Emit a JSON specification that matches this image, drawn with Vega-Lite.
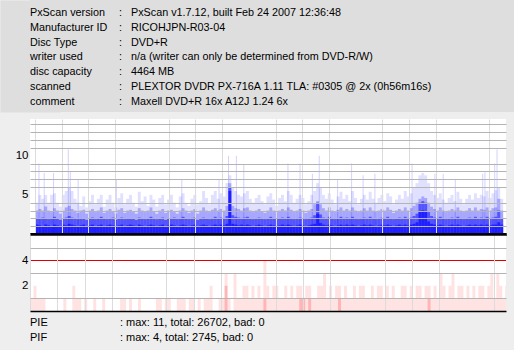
{
"$schema": "https://vega.github.io/schema/vega-lite/v6.json",
"padding": 0,
"background": "#EEEEEE",
"config": {
  "view": {"stroke": null},
  "font": "Liberation Sans",
  "text": {"font": "Liberation Sans", "fontSize": 10.8, "color": "black"},
  "axis": {"labelFont": "Liberation Sans", "labelFontSize": 11.5, "labelColor": "black", "ticks": false, "labels": false, "grid": true, "labelPadding": 2},
  "axisY": {"minExtent": 30, "maxExtent": 30}
},
"datasets": {
  "header": [
    {"i": 0, "k": "PxScan version", "v": "PxScan v1.7.12, built Feb 24 2007 12:36:48"},
    {"i": 1, "k": "Manufacturer ID", "v": "RICOHJPN-R03-04"},
    {"i": 2, "k": "Disc Type", "v": "DVD+R"},
    {"i": 3, "k": "writer used", "v": "n/a (writer can only be determined from DVD-R/W)"},
    {"i": 4, "k": "disc capacity", "v": "4464 MB"},
    {"i": 5, "k": "scanned", "v": "PLEXTOR DVDR PX-716A 1.11 TLA: #0305 @ 2x (0h56m16s)"},
    {"i": 6, "k": "comment", "v": "Maxell DVD+R 16x A12J 1.24 6x"}
  ],
  "footer": [
    {"i": 0, "k": "PIE", "v": "max: 11, total: 26702, bad: 0"},
    {"i": 1, "k": "PIF", "v": "max: 4, total: 2745, bad: 0"}
  ],
  "pie": [
    {"a":0,"d":1.2,"m":2,"l":3,"f":4},{"a":28,"d":1.1,"m":2,"l":3.2,"f":5},{"a":56,"d":1,"m":2.1,"l":3,"f":4.5},{"a":84,"d":1.2,"m":2,"l":3.5,"f":5},
    {"a":112,"d":1.1,"m":1.9,"l":3,"f":4},{"a":140,"d":1,"m":2,"l":2.8,"f":5},{"a":168,"d":1.2,"m":2.2,"l":3.3,"f":5.2},{"a":196,"d":1.1,"m":2,"l":3,"f":4},
    {"a":224,"d":1,"m":1.8,"l":2.6,"f":3.5},{"a":252,"d":1.2,"m":2,"l":3,"f":5},{"a":280,"d":1.1,"m":2.1,"l":3.4,"f":5.5},{"a":308,"d":1.3,"m":2.3,"l":3.6,"f":6},
    {"a":336,"d":1.2,"m":2.1,"l":3.2,"f":5.5},{"a":364,"d":1.1,"m":2,"l":3,"f":4.5},{"a":392,"d":1,"m":1.9,"l":2.7,"f":4},{"a":420,"d":1.1,"m":2,"l":3,"f":3.6},
    {"a":448,"d":1.2,"m":2,"l":3.1,"f":4.8},{"a":476,"d":1,"m":1.8,"l":2.6,"f":3.4},{"a":504,"d":1.1,"m":2,"l":3,"f":4.2},{"a":532,"d":1.2,"m":2.1,"l":3.2,"f":5},
    {"a":560,"d":1,"m":1.9,"l":2.8,"f":3.8},{"a":588,"d":1.1,"m":2,"l":3,"f":4.5},{"a":616,"d":1.2,"m":2.2,"l":3.4,"f":5},{"a":644,"d":1,"m":2,"l":2.7,"f":3.5},
    {"a":672,"d":1.1,"m":1.9,"l":3,"f":4.4},{"a":700,"d":1.2,"m":2,"l":3.2,"f":5},{"a":728,"d":1.1,"m":2.1,"l":2.9,"f":4},{"a":756,"d":1,"m":1.8,"l":2.6,"f":3.4},
    {"a":784,"d":1.1,"m":2,"l":3.1,"f":4.6},{"a":812,"d":1.2,"m":2.1,"l":3.3,"f":5.2},{"a":840,"d":1,"m":1.9,"l":2.7,"f":3.8},{"a":868,"d":1.1,"m":2,"l":3,"f":4.5},
    {"a":896,"d":1.2,"m":2,"l":3.1,"f":5},{"a":924,"d":1.1,"m":2,"l":2.8,"f":4},{"a":952,"d":1,"m":1.8,"l":2.6,"f":3.5},{"a":980,"d":1.2,"m":2.1,"l":3.3,"f":5.4},
    {"a":1008,"d":1.1,"m":2,"l":3,"f":4.2},{"a":1036,"d":1,"m":1.9,"l":2.8,"f":4.8},{"a":1064,"d":1.1,"m":2,"l":3,"f":3.6},{"a":1092,"d":1.2,"m":2.2,"l":3.4,"f":5},
    {"a":1120,"d":1.1,"m":2,"l":2.9,"f":4.4},{"a":1148,"d":1,"m":1.9,"l":2.6,"f":3.5},{"a":1176,"d":1.1,"m":2,"l":3,"f":4.6},{"a":1204,"d":1.2,"m":2.1,"l":3.2,"f":5},
    {"a":1232,"d":1,"m":1.8,"l":2.7,"f":3.8},{"a":1260,"d":1.1,"m":2,"l":3,"f":4.4},{"a":1288,"d":1.2,"m":2,"l":3.1,"f":5},{"a":1316,"d":1.1,"m":2.1,"l":2.8,"f":4},
    {"a":1344,"d":1,"m":1.9,"l":2.6,"f":3.4},{"a":1372,"d":1.1,"m":2,"l":3,"f":4.8},{"a":1400,"d":1.2,"m":2.2,"l":3.3,"f":5.2},{"a":1428,"d":1.1,"m":2,"l":3,"f":4},
    {"a":1456,"d":1,"m":1.9,"l":2.7,"f":3.6},{"a":1484,"d":1.1,"m":2,"l":3,"f":4.5},{"a":1512,"d":1.2,"m":2.1,"l":3.2,"f":5},{"a":1540,"d":1,"m":1.8,"l":2.6,"f":3.8},
    {"a":1568,"d":1.1,"m":2,"l":3,"f":4.2},{"a":1596,"d":1.2,"m":2.1,"l":3.4,"f":5.5},{"a":1624,"d":1.1,"m":2,"l":3,"f":4.6},{"a":1652,"d":1,"m":1.9,"l":2.8,"f":3.8},
    {"a":1680,"d":1.1,"m":2,"l":3.1,"f":5},{"a":1708,"d":1.2,"m":2.2,"l":3.3,"f":5.5},{"a":1736,"d":1.1,"m":2,"l":3,"f":4.5},{"a":1764,"d":1.2,"m":2.1,"l":3.2,"f":5.2},
    {"a":1792,"d":1.1,"m":2,"l":3,"f":4.8},{"a":1820,"d":1.3,"m":2.3,"l":3.6,"f":6.5},{"a":1848,"d":5.5,"m":6,"l":6.5,"f":7.5},{"a":1876,"d":1.3,"m":2.4,"l":3.6,"f":6},
    {"a":1904,"d":1.2,"m":2.2,"l":3.3,"f":5.5},{"a":1932,"d":1.1,"m":2.1,"l":3.2,"f":5},{"a":1960,"d":1.2,"m":2,"l":3,"f":4.8},{"a":1988,"d":1.1,"m":2.1,"l":3.3,"f":5.2},
    {"a":2016,"d":1.2,"m":2.2,"l":3.4,"f":5.5},{"a":2044,"d":1.1,"m":2,"l":3,"f":4.5},{"a":2072,"d":1,"m":1.9,"l":2.8,"f":4},{"a":2100,"d":1.1,"m":2,"l":3,"f":4.6},
    {"a":2128,"d":1.2,"m":2.1,"l":3.2,"f":5},{"a":2156,"d":1.1,"m":2,"l":2.9,"f":4.2},{"a":2184,"d":1,"m":1.9,"l":2.7,"f":3.8},{"a":2212,"d":1.1,"m":2,"l":3,"f":4.8},
    {"a":2240,"d":1.2,"m":2.2,"l":3.4,"f":5.2},{"a":2268,"d":1.1,"m":2,"l":3,"f":4.4},{"a":2296,"d":1,"m":1.9,"l":2.8,"f":3.6},{"a":2324,"d":1.1,"m":2,"l":3,"f":4.6},
    {"a":2352,"d":1.2,"m":2.1,"l":3.2,"f":5},{"a":2380,"d":1.1,"m":2,"l":3,"f":4.2},{"a":2408,"d":1.2,"m":2.2,"l":3.4,"f":5.5},{"a":2436,"d":1.1,"m":2,"l":3.1,"f":5},
    {"a":2464,"d":1,"m":1.9,"l":2.8,"f":4},{"a":2492,"d":1.1,"m":2,"l":3,"f":4.5},{"a":2520,"d":1.2,"m":2.1,"l":3.2,"f":5},{"a":2548,"d":1.1,"m":2,"l":3,"f":4.6},
    {"a":2576,"d":1,"m":1.9,"l":2.7,"f":3.8},{"a":2604,"d":1.1,"m":2,"l":3,"f":4.2},{"a":2632,"d":1.2,"m":2.1,"l":3.2,"f":5},{"a":2660,"d":1.3,"m":2.4,"l":3.8,"f":5.5},
    {"a":2688,"d":2.6,"m":4,"l":4.2,"f":6.5},{"a":2716,"d":1.4,"m":2.5,"l":3.8,"f":6},{"a":2744,"d":1.2,"m":2.1,"l":3.3,"f":5},{"a":2772,"d":1.1,"m":2,"l":3,"f":4.5},
    {"a":2800,"d":1.2,"m":2.2,"l":3.4,"f":5.2},{"a":2828,"d":1.1,"m":2,"l":3,"f":4.4},{"a":2856,"d":1,"m":1.9,"l":2.8,"f":3.8},{"a":2884,"d":1.1,"m":2,"l":3.1,"f":4.8},
    {"a":2912,"d":1.2,"m":2.2,"l":3.4,"f":5.4},{"a":2940,"d":1.1,"m":2,"l":3,"f":4.5},{"a":2968,"d":1.2,"m":2.1,"l":3.2,"f":5},{"a":2996,"d":1.1,"m":2,"l":3,"f":4.2},
    {"a":3024,"d":1.2,"m":2.2,"l":3.4,"f":5.5},{"a":3052,"d":1.1,"m":2,"l":3,"f":4.6},{"a":3080,"d":1,"m":1.9,"l":2.8,"f":3.8},{"a":3108,"d":1.1,"m":2,"l":3,"f":4.5},
    {"a":3136,"d":1.2,"m":2.1,"l":3.3,"f":5},{"a":3164,"d":1.1,"m":2,"l":3,"f":4.4},{"a":3192,"d":1.2,"m":2.2,"l":3.4,"f":5.4},{"a":3220,"d":1.1,"m":2,"l":3,"f":4.5},
    {"a":3248,"d":1,"m":1.9,"l":2.8,"f":4},{"a":3276,"d":1.1,"m":2,"l":3,"f":4.6},{"a":3304,"d":1.2,"m":2.1,"l":3.2,"f":5},{"a":3332,"d":1.1,"m":2,"l":3,"f":4.2},
    {"a":3360,"d":1.2,"m":2.2,"l":3.4,"f":5.2},{"a":3388,"d":1.1,"m":2,"l":3.1,"f":4.8},{"a":3416,"d":1,"m":1.9,"l":2.7,"f":3.8},{"a":3444,"d":1.1,"m":2,"l":3,"f":4.4},
    {"a":3472,"d":1.2,"m":2.1,"l":3.2,"f":5},{"a":3500,"d":1.1,"m":2,"l":3,"f":4.5},{"a":3528,"d":1.2,"m":2.2,"l":3.4,"f":5.5},{"a":3556,"d":1.1,"m":2,"l":3,"f":4.8},
    {"a":3584,"d":1.2,"m":2.1,"l":3.3,"f":5.2},{"a":3612,"d":1.3,"m":2.3,"l":3.6,"f":6},{"a":3640,"d":1.5,"m":2.6,"l":4,"f":6.5},{"a":3668,"d":2.8,"m":4,"l":4.5,"f":7.5},
    {"a":3696,"d":3,"m":4.2,"l":4.8,"f":7.8},{"a":3724,"d":2.9,"m":4,"l":4.6,"f":7.5},{"a":3752,"d":1.6,"m":2.8,"l":4,"f":6.5},{"a":3780,"d":1.3,"m":2.3,"l":3.5,"f":5.5},
    {"a":3808,"d":1.2,"m":2.1,"l":3.2,"f":5},{"a":3836,"d":1.1,"m":2,"l":3,"f":4.6},{"a":3864,"d":1.2,"m":2.2,"l":3.4,"f":5.2},{"a":3892,"d":1.1,"m":2,"l":3,"f":4.4},
    {"a":3920,"d":1,"m":1.9,"l":2.8,"f":4},{"a":3948,"d":1.1,"m":2,"l":3,"f":4.6},{"a":3976,"d":1.2,"m":2.1,"l":3.2,"f":5},{"a":4004,"d":1.1,"m":2,"l":3,"f":4.2},
    {"a":4032,"d":1.2,"m":2.2,"l":3.4,"f":5.4},{"a":4060,"d":1.1,"m":2,"l":3,"f":4.5},{"a":4088,"d":1,"m":1.9,"l":2.8,"f":3.8},{"a":4116,"d":1.1,"m":2,"l":3,"f":4.5},
    {"a":4144,"d":1.2,"m":2.1,"l":3.3,"f":5},{"a":4172,"d":1.1,"m":2,"l":3,"f":4.4},{"a":4200,"d":1.2,"m":2.2,"l":3.4,"f":5.2},{"a":4228,"d":1.1,"m":2,"l":3,"f":4.6},
    {"a":4256,"d":1.2,"m":2.1,"l":3.2,"f":5},{"a":4284,"d":1.1,"m":2,"l":3.1,"f":4.8},{"a":4312,"d":1.2,"m":2.2,"l":3.4,"f":5.5},{"a":4340,"d":1.1,"m":2,"l":3,"f":4.6},
    {"a":4368,"d":1.2,"m":2.1,"l":3.3,"f":5.2},{"a":4396,"d":1.2,"m":2.2,"l":3.4,"f":5.6},{"a":4424,"d":1.5,"m":3,"l":4.5,"f":6},{"a":4452,"d":1.2,"m":2,"l":3,"f":4.5}
  ],
  "spikes": [
    {"x":38,"v":9},{"x":88,"v":7.8},{"x":178,"v":7.8},{"x":319,"v":10.8},{"x":338,"v":8},{"x":413,"v":7},{"x":779,"v":7},{"x":1406,"v":7},
    {"x":1763,"v":7},{"x":1854,"v":10},{"x":1929,"v":10},{"x":2000,"v":8.9},{"x":2423,"v":9},{"x":2539,"v":9},{"x":2657,"v":7.7},{"x":2723,"v":10},
    {"x":2899,"v":7},{"x":3033,"v":9},{"x":3143,"v":7.5},{"x":3256,"v":7.7},{"x":3612,"v":9},{"x":3831,"v":7.7},{"x":3910,"v":7.7},{"x":4026,"v":7},
    {"x":4289,"v":7.7},{"x":4310,"v":7.9},{"x":4404,"v":9},{"x":4426,"v":10.8}
  ],
  "pif": [
    {"a":0,"p":1},{"a":28,"p":2},{"a":56,"p":1},{"a":84,"p":1},{"a":112,"p":1},{"a":308,"p":1},{"a":392,"p":2},{"a":420,"p":1},{"a":448,"p":1},
    {"a":504,"p":1},{"a":588,"p":1},{"a":672,"p":1},{"a":840,"p":1},{"a":868,"p":1},{"a":924,"p":1},{"a":1008,"p":1},{"a":1176,"p":1},{"a":1204,"p":1},
    {"a":1260,"p":1},{"a":1288,"p":1},{"a":1372,"p":1},{"a":1400,"p":1},{"a":1428,"p":1},{"a":1484,"p":1},{"a":1512,"p":1},{"a":1568,"p":1},
    {"a":1624,"p":1},{"a":1652,"p":1},{"a":1680,"p":2},{"a":1764,"p":1},{"a":1792,"p":1},{"a":1820,"p":3,"q":2},{"a":1848,"p":1},{"a":1904,"p":3},
    {"a":1932,"p":1},{"a":1960,"p":1},{"a":1988,"p":2},{"a":2016,"p":2},{"a":2044,"p":1},{"a":2072,"p":2},{"a":2100,"p":1},{"a":2128,"p":2},
    {"a":2156,"p":1},{"a":2184,"p":4,"q":1},{"a":2212,"p":2},{"a":2240,"p":1},{"a":2268,"p":2},{"a":2296,"p":2},{"a":2324,"p":1},{"a":2352,"p":1},
    {"a":2380,"p":2},{"a":2408,"p":1},{"a":2436,"p":2},{"a":2464,"p":1},{"a":2492,"p":2},{"a":2520,"p":2,"q":1},{"a":2548,"p":1,"q":1},{"a":2576,"p":2},
    {"a":2604,"p":2,"q":1},{"a":2632,"p":1},{"a":2660,"p":1},{"a":2688,"p":2},{"a":2716,"p":2},{"a":2744,"p":3},{"a":2772,"p":1},{"a":2800,"p":2},
    {"a":2828,"p":1},{"a":2856,"p":2},{"a":2884,"p":2,"q":1},{"a":2912,"p":1},{"a":2940,"p":2},{"a":2968,"p":1},{"a":2996,"p":1},{"a":3024,"p":2},
    {"a":3052,"p":1},{"a":3080,"p":2},{"a":3108,"p":2},{"a":3136,"p":1},{"a":3164,"p":1},{"a":3192,"p":2},{"a":3220,"p":1},{"a":3248,"p":2},
    {"a":3276,"p":2},{"a":3304,"p":1},{"a":3332,"p":2},{"a":3360,"p":1},{"a":3388,"p":2},{"a":3416,"p":1},{"a":3444,"p":1},{"a":3472,"p":2},
    {"a":3500,"p":2},{"a":3528,"p":1},{"a":3556,"p":2},{"a":3584,"p":1},{"a":3612,"p":2},{"a":3640,"p":2},{"a":3668,"p":1},{"a":3696,"p":2},
    {"a":3724,"p":2,"q":1},{"a":3752,"p":1},{"a":3780,"p":2},{"a":3808,"p":1},{"a":3836,"p":3},{"a":3864,"p":2},{"a":3892,"p":1},{"a":3920,"p":2},
    {"a":3948,"p":3},{"a":3976,"p":1},{"a":4004,"p":2},{"a":4032,"p":2},{"a":4060,"p":1},{"a":4088,"p":2},{"a":4116,"p":1},{"a":4144,"p":2},
    {"a":4172,"p":1},{"a":4200,"p":2},{"a":4228,"p":2},{"a":4256,"p":1},{"a":4284,"p":2},{"a":4312,"p":3},{"a":4340,"p":1},{"a":4368,"p":3},
    {"a":4396,"p":2},{"a":4424,"p":1},{"a":4452,"p":2}
  ]
},
"spacing": 7,
"vconcat": [
  {
    "width": 484,
    "height": 112,
    "view": {"fill": "#DEDEDE"},
    "data": {"name": "header"},
    "encoding": {
      "y": {"field": "i", "type": "quantitative", "title": null,
            "scale": {"domain": [-0.905, 6.714], "reverse": true, "nice": false, "zero": false},
            "axis": {"grid": false, "domain": true, "domainColor": "#DEDEDE", "domainWidth": 60}}
    },
    "layer": [
      {"mark": {"type": "text", "align": "left", "baseline": "middle"}, "encoding": {"x": {"value": 0}, "text": {"field": "k"}}},
      {"mark": {"type": "text", "align": "left", "baseline": "middle"}, "encoding": {"x": {"value": 89}, "text": {"value": ":"}}},
      {"mark": {"type": "text", "align": "left", "baseline": "middle"}, "encoding": {"x": {"value": 101}, "text": {"field": "v"}}}
    ]
  },
  {
    "spacing": 0,
    "bounds": "flush",
    "vconcat": [
      {
        "width": 476,
        "height": 115,
        "view": {"fill": "white"},
        "resolve": {"axis": {"x": "independent", "y": "independent"}},
        "layer": [
          {"data": {"name": "pie"}, "mark": {"type": "bar", "color": "#0000FF", "opacity": 0.12, "binSpacing": 0, "clip": true},
           "encoding": {
             "x": {"field": "a", "type": "quantitative", "bin": {"binned": true, "step": 28}, "title": null,
                   "scale": {"domain": [0, 4464], "nice": false, "zero": false},
                   "axis": {"orient": "bottom", "values": [0,256,512,768,1280,1536,1792,2304,2560,2816,3328,3584,3840,4352], "gridColor": "#DCDCDC", "domain": false, "zindex": 1}},
             "y": {"field": "f", "type": "quantitative", "title": null,
                   "scale": {"domain": [0, 14.7], "nice": false},
                   "axis": {"orient": "left", "values": [1,2,3,4,6,7,8,9,11,12,13,14], "gridColor": "#B4B4B4", "domain": false, "zindex": 1}}
           }},
          {"data": {"name": "pie"}, "mark": {"type": "bar", "color": "#0000FF", "opacity": 0.26, "binSpacing": 0, "clip": true},
           "encoding": {
             "x": {"field": "a", "type": "quantitative", "bin": {"binned": true, "step": 28}, "title": null,
                   "axis": {"orient": "bottom", "values": [1024,2048,3072,4096], "gridColor": "#A0A0A0", "domain": true, "domainColor": "black", "domainWidth": 3, "zindex": 1}},
             "y": {"field": "l", "type": "quantitative", "title": null,
                   "axis": {"orient": "left", "values": [5,10], "labels": true, "gridColor": "#787878", "domain": false, "zindex": 1}}
           }},
          {"data": {"name": "pie"}, "mark": {"type": "bar", "color": "#0000FF", "opacity": 0.5, "binSpacing": 0, "clip": true},
           "encoding": {"x": {"field": "a", "type": "quantitative", "bin": {"binned": true, "step": 28}, "axis": null},
                        "y": {"field": "m", "type": "quantitative", "axis": null}}},
          {"data": {"name": "pie"}, "mark": {"type": "bar", "color": "#0000FF", "opacity": 0.62, "binSpacing": 0, "clip": true},
           "encoding": {"x": {"field": "a", "type": "quantitative", "bin": {"binned": true, "step": 28}, "axis": null},
                        "y": {"field": "d", "type": "quantitative", "axis": null}}},
          {"data": {"name": "spikes"}, "mark": {"type": "bar", "color": "#0000FF", "opacity": 0.18, "width": 1, "clip": true},
           "encoding": {"x": {"field": "x", "type": "quantitative", "axis": null},
                        "y": {"field": "v", "type": "quantitative", "axis": null}}}
        ]
      },
      {
        "width": 476,
        "height": 77,
        "view": {"fill": "white"},
        "resolve": {"axis": {"x": "independent", "y": "independent"}},
        "layer": [
          {"data": {"name": "pif"}, "mark": {"type": "bar", "color": "#FF0000", "opacity": 0.11, "binSpacing": 0, "clip": true},
           "encoding": {
             "x": {"field": "a", "type": "quantitative", "bin": {"binned": true, "step": 28}, "title": null,
                   "scale": {"domain": [0, 4464], "nice": false, "zero": false},
                   "axis": {"orient": "top", "values": [0,256,512,768,1280,1536,1792,2304,2560,2816,3328,3584,3840,4352], "gridColor": "#DCDCDC", "domain": true, "domainColor": "black", "domainWidth": 2.5, "zindex": 1}},
             "y": {"field": "p", "type": "quantitative", "title": null,
                   "scale": {"domain": [0, 6.1], "nice": false},
                   "axis": {"orient": "left", "values": [1,3,5], "gridColor": "#B4B4B4", "domain": false, "zindex": 1}}
           }},
          {"data": {"name": "pif"}, "mark": {"type": "bar", "color": "#FF0000", "opacity": 0.2, "binSpacing": 0, "clip": true},
           "encoding": {
             "x": {"field": "a", "type": "quantitative", "bin": {"binned": true, "step": 28}, "title": null,
                   "axis": {"orient": "bottom", "values": [1024,2048,3072,4096], "gridColor": "#A0A0A0", "domain": true, "domainColor": "black", "domainWidth": 1.5, "zindex": 1}},
             "y": {"field": "q", "type": "quantitative", "title": null,
                   "axis": {"orient": "left", "values": [2,4], "labels": true, "gridColor": "#787878", "domain": false, "zindex": 0}}
           }},
          {"data": {"values": [{"limit": 4}]}, "mark": {"type": "rule", "color": "#E00000", "strokeWidth": 1.2},
           "encoding": {"y": {"field": "limit", "type": "quantitative", "title": null, "axis": null}}}
        ]
      },
      {
        "width": 476,
        "height": 39,
        "data": {"name": "footer"},
        "encoding": {
          "y": {"field": "i", "type": "quantitative", "title": null,
                "scale": {"domain": [-0.8, 1.8], "reverse": true, "nice": false, "zero": false}, "axis": null}
        },
        "layer": [
          {"mark": {"type": "text", "align": "left", "baseline": "middle", "fontSize": 11}, "encoding": {"x": {"value": 0}, "text": {"field": "k"}}},
          {"mark": {"type": "text", "align": "left", "baseline": "middle", "fontSize": 11}, "encoding": {"x": {"value": 90}, "text": {"value": ":"}}},
          {"mark": {"type": "text", "align": "left", "baseline": "middle", "fontSize": 11}, "encoding": {"x": {"value": 96}, "text": {"field": "v"}}}
        ]
      }
    ]
  }
]
}
